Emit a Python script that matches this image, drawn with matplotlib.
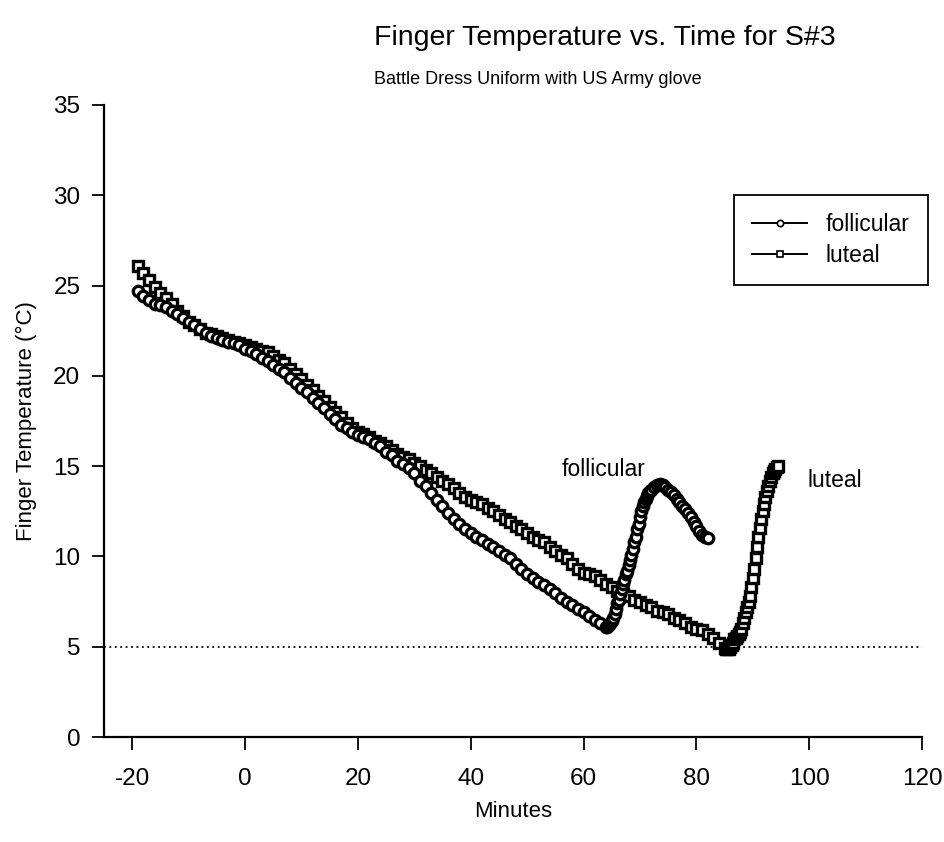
import matplotlib
matplotlib.use("Agg")
import matplotlib.pyplot as plt

plt.rcParams['font.family'] = ['Liberation Sans', 'DejaVu Sans']
plt.rcParams['axes.unicode_minus'] = False

# ---------------- data ----------------
foll_t = [-19, -18, -17, -16, -15, -14, -13, -12, -11, -10, -9, -8, -7, -6, -5, -4, -3, -2, -1,
          0, 1, 2, 3, 4, 5, 6, 7, 8, 9, 10, 11, 12, 13, 14, 15, 16, 17, 18, 19,
          20, 21, 22, 23, 24, 25, 26, 27, 28, 29, 30, 31, 32, 33, 34, 35, 36, 37, 38, 39,
          40, 41, 42, 43, 44, 45, 46, 47, 48, 49, 50, 51, 52, 53, 54, 55, 56, 57, 58, 59,
          60, 61, 62, 63, 64, 64.25, 64.5, 64.75, 65, 65.25, 65.5, 65.75, 66, 66.25, 66.5, 66.75,
          67, 67.25, 67.5, 67.75, 68, 68.25, 68.5, 68.75, 69, 69.25, 69.5, 69.75,
          70, 70.25, 70.5, 70.75, 71, 71.25, 71.5, 71.75, 72, 72.5, 73, 73.5, 74, 74.5,
          75, 75.5, 76, 76.5, 77, 77.5, 78, 78.5, 79, 79.5, 80, 80.5, 81, 81.5, 82]
foll_temp = [24.7, 24.4, 24.2, 24.0, 23.9, 23.8, 23.6, 23.4, 23.2, 23.0, 22.8, 22.6, 22.4, 22.2, 22.1, 22.0, 21.9, 21.8, 21.7,
             21.5, 21.4, 21.2, 21.0, 20.8, 20.6, 20.4, 20.2, 19.9, 19.6, 19.3, 19.1, 18.8, 18.5, 18.2, 17.9, 17.6, 17.3, 17.1, 16.9,
             16.7, 16.6, 16.5, 16.3, 16.1, 15.8, 15.6, 15.3, 15.1, 14.9, 14.6, 14.2, 13.9, 13.5, 13.1, 12.8, 12.4, 12.1, 11.8, 11.5,
             11.3, 11.1, 10.9, 10.7, 10.5, 10.3, 10.1, 9.9, 9.6, 9.3, 9.0, 8.8, 8.6, 8.4, 8.2, 8.0, 7.7, 7.5, 7.3, 7.1,
             6.9, 6.7, 6.5, 6.3, 6.1, 6.1, 6.2, 6.3, 6.4, 6.6, 6.8, 7.1, 7.4, 7.6, 7.9, 8.2,
             8.5, 8.7, 9.0, 9.2, 9.5, 9.8, 10.1, 10.4, 10.8, 11.1, 11.5, 11.8,
             12.2, 12.5, 12.8, 13.0, 13.2, 13.35, 13.5, 13.6, 13.7, 13.85, 13.95, 14.0, 13.95, 13.85,
             13.7, 13.55, 13.4, 13.2, 13.0, 12.8, 12.6, 12.4, 12.2, 11.9, 11.7, 11.4, 11.2, 11.1, 11.0]

lut_t = [-19, -18, -17, -16, -15, -14, -13, -12, -11, -10, -9, -8, -7, -6, -5, -4, -3, -2, -1,
         0, 1, 2, 3, 4, 5, 6, 7, 8, 9, 10, 11, 12, 13, 14, 15, 16, 17, 18, 19,
         20, 21, 22, 23, 24, 25, 26, 27, 28, 29, 30, 31, 32, 33, 34, 35, 36, 37, 38, 39,
         40, 41, 42, 43, 44, 45, 46, 47, 48, 49, 50, 51, 52, 53, 54, 55, 56, 57, 58, 59,
         60, 61, 62, 63, 64, 65, 66, 67, 68, 69, 70, 71, 72, 73, 74, 75, 76, 77, 78, 79,
         80, 81, 82, 83, 84, 85, 85.25, 85.5, 85.75, 86, 86.25, 86.5, 86.75, 87, 87.25, 87.5, 87.75,
         88, 88.25, 88.5, 88.75, 89, 89.25, 89.5, 89.75, 90, 90.25, 90.5, 90.75, 91, 91.25, 91.5, 91.75,
         92, 92.25, 92.5, 92.75, 93, 93.25, 93.5, 93.75, 94, 94.25, 94.5]
lut_temp = [26.1, 25.7, 25.3, 24.9, 24.6, 24.3, 24.0, 23.6, 23.3, 23.0, 22.8, 22.6, 22.4, 22.3, 22.2, 22.1, 22.0, 21.9, 21.8,
            21.7, 21.6, 21.5, 21.4, 21.3, 21.1, 20.9, 20.7, 20.4, 20.1, 19.8, 19.5, 19.2, 18.9, 18.6, 18.3, 18.0, 17.7, 17.4, 17.1,
            16.9, 16.8, 16.6, 16.4, 16.3, 16.1, 15.9, 15.7, 15.5, 15.4, 15.2, 15.0, 14.8, 14.6, 14.4, 14.2, 14.0, 13.8, 13.5, 13.3,
            13.1, 13.0, 12.9, 12.7, 12.5, 12.3, 12.1, 11.9, 11.7, 11.5, 11.3, 11.1, 10.9, 10.8, 10.5, 10.3, 10.1, 9.9, 9.6, 9.3,
            9.1, 9.0, 8.9, 8.7, 8.5, 8.3, 8.1, 7.9, 7.8, 7.6, 7.5, 7.3, 7.2, 7.0, 6.9, 6.8, 6.6, 6.5, 6.3, 6.1,
            6.0, 5.9, 5.7, 5.5, 5.2, 4.95, 4.9, 4.9, 4.9, 5.0, 5.1, 5.2, 5.4, 5.5, 5.6, 5.7, 5.8,
            6.0, 6.3, 6.6, 6.9, 7.2, 7.5, 7.8, 8.3, 8.8, 9.3, 9.9, 10.5, 11.1, 11.6, 12.1, 12.5,
            12.9, 13.3, 13.6, 13.9, 14.2, 14.4, 14.6, 14.75, 14.85, 14.95, 15.0]

reference_temp = 5
x_ticks = [-20, 0, 20, 40, 60, 80, 100, 120]
y_ticks = [0, 5, 10, 15, 20, 25, 30, 35]

# ---------------- figure ----------------
fig = plt.figure(figsize=(9.45, 8.42), dpi=100)
ax = fig.add_axes([0.110, 0.1247, 0.8657, 0.7506])

ax.axhline(reference_temp, color='black', lw=1.3, ls=(0, (1, 2)), zorder=1)

ax.plot(foll_t, foll_temp, color='black', lw=1.3, marker='o', ms=7.5,
        mfc='white', mec='black', mew=2.4, label='follicular', zorder=3)
ax.plot(lut_t, lut_temp, color='black', lw=1.3, marker='s', ms=7,
        mfc='white', mec='black', mew=2.4, label='luteal', zorder=2)

ax.set_xlim(-25, 120)
ax.set_ylim(0, 35)
ax.set_xticks(x_ticks)
ax.set_yticks(y_ticks)

for s in ['top', 'right']:
    ax.spines[s].set_visible(False)
for s in ['left', 'bottom']:
    ax.spines[s].set_linewidth(1.6)

ax.tick_params(axis='both', direction='out', length=9, width=1.3, labelsize=17.5)
ax.tick_params(axis='x', pad=13)
ax.tick_params(axis='y', pad=8)

ax.set_xlabel('Minutes', fontsize=16, labelpad=8)
ax.set_ylabel('Finger Temperature (°C)', fontsize=16, labelpad=12)

ax.text(63.6, 14.8, 'follicular', fontsize=16.5, ha='center', va='center')
ax.text(104.6, 14.2, 'luteal', fontsize=16.5, ha='center', va='center')

leg = ax.legend(loc='upper right', bbox_to_anchor=(1.007, 0.858), fontsize=16.5,
                frameon=True, fancybox=False, edgecolor='black', framealpha=1,
                handlelength=2.4, markerscale=0.6, borderpad=0.8, labelspacing=0.35,
                handletextpad=0.8, borderaxespad=0)
leg.get_frame().set_linewidth(1.3)
for h in leg.legend_handles:
    h.set_markeredgewidth(1.2)
    h.set_linewidth(1.4)

fig.text(605 / 945, 1 - 38 / 842, 'Finger Temperature vs. Time for S#3',
         fontsize=20.5, ha='center', va='center')
fig.text(538 / 945, 1 - 80 / 842, 'Battle Dress Uniform with US Army glove',
         fontsize=13, ha='center', va='center')

fig.savefig('out.png', dpi=100, facecolor='white')
